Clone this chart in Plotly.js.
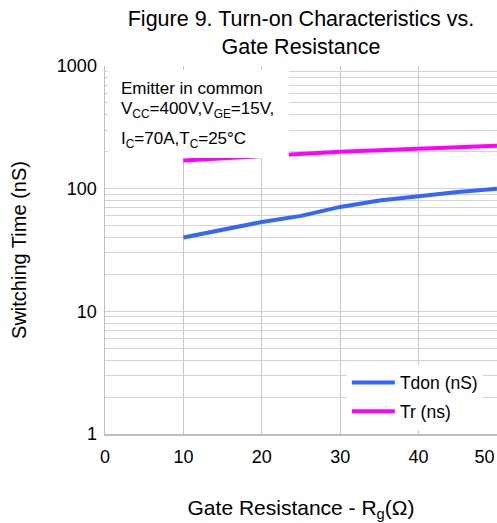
<!DOCTYPE html>
<html>
<head>
<meta charset="utf-8">
<script src="https://cdn.plot.ly/plotly-3.0.1.min.js"></script>
<style>html,body{margin:0;padding:0;background:#fff;}#chart{width:497px;height:523px;}</style>
</head>
<body>
<div id="chart"></div>
<script>
// Data
var rgTdon = [10, 15, 20, 25, 30, 35, 40, 45, 50];
var tdon   = [40, 46.5, 53.5, 60, 71, 80, 87, 94, 100];
var rgTr   = [10, 20, 30, 40, 50];
var tr     = [170, 185, 200, 212, 224];

var xTicks = [0, 10, 20, 30, 40, 50];
var xTickText = ['0', '10', '20', '30', '40', '50\u00a0\u00a0\u00a0\u00a0\u00a0'];
var yGridVals = [1,2,3,4,5,6,7,8,9,10,20,30,40,50,60,70,80,90,100,200,300,400,500,600,700,800,900,1000];
var yGridText = ['1','','','','','','','','','10','','','','','','','','','100','','','','','','','','','1000'];

var F = 'Liberation Sans, Arial, sans-serif';

var traces = [
  {x: rgTdon, y: tdon, name: 'Tdon (nS)', mode: 'lines', legendgroup: 'a',
   line: {color: '#3366ff', width: 4}},
  {x: rgTr, y: tr, name: 'Tr (ns)', mode: 'lines', legendgroup: 'b',
   line: {color: '#ff00ff', width: 4}}
];

var layout = {
  width: 497, height: 523,
  margin: {l: 105, r: 0, t: 66, b: 89},
  paper_bgcolor: '#fff', plot_bgcolor: '#fff',
  font: {family: F, color: '#000'},
  title: {text: 'Figure 9. Turn-on Characteristics vs.<br>Gate Resistance',
          font: {size: 21.5, family: F, color: '#000'},
          x: 0.5, xref: 'paper', xanchor: 'center',
          y: 1 - 26/523, yref: 'container', yanchor: 'middle'},
  xaxis: {
    range: [0, 50], tickvals: xTicks, ticktext: xTickText, ticks: '',
    ticklabeloverflow: 'allow',
    tickfont: {size: 18, family: F}, ticklabelstandoff: 6,
    showgrid: true, gridcolor: '#c8c8c8', gridwidth: 1,
    showline: true, linecolor: '#bfbfbf', linewidth: 1.5, zeroline: false,
    title: {text: 'Gate Resistance - R<sub>g</sub>(Ω)', font: {size: 21, family: F}, standoff: 34}
  },
  yaxis: {
    type: 'log', range: [0, 3], tickvals: yGridVals, ticktext: yGridText, ticks: '',
    tickfont: {size: 18, family: F}, ticklabelstandoff: 3,
    showgrid: true, gridcolor: '#d4d4d4', gridwidth: 1,
    showline: true, linecolor: '#bfbfbf', linewidth: 1.5, zeroline: false,
    title: {text: 'Switching Time (nS)', font: {size: 20, family: F}, standoff: 25}
  },
  showlegend: true,
  legend: {x: 0.964, xanchor: 'right', y: 0.012, yanchor: 'bottom', bgcolor: '#fff',
           borderwidth: 0, font: {size: 17.5, family: F}, tracegroupgap: 3,
           itemwidth: 43, traceorder: 'grouped'},
  shapes: [
    {type: 'rect', xref: 'paper', yref: 'paper', x0: 0.008, x1: 0.469, y0: 0.75, y1: 0.989,
     fillcolor: '#fff', line: {width: 0}, layer: 'above'}
  ],
  annotations: [
    {xref: 'paper', yref: 'paper', x: 0.036, y: 0.940, xanchor: 'left', yanchor: 'middle',
     showarrow: false, text: 'Emitter in common', font: {size: 17, family: F}},
    {xref: 'paper', yref: 'paper', x: 0.036, y: 0.880, xanchor: 'left', yanchor: 'middle',
     showarrow: false, text: 'V<sub>CC</sub>=400V,V<sub>GE</sub>=15V,', font: {size: 17, family: F}},
    {xref: 'paper', yref: 'paper', x: 0.036, y: 0.800, xanchor: 'left', yanchor: 'middle',
     showarrow: false, text: 'I<sub>C</sub>=70A,T<sub>C</sub>=25°C', font: {size: 17, family: F}}
  ]
};

Plotly.newPlot('chart', traces, layout, {displayModeBar: false, staticPlot: true});
</script>
</body>
</html>
